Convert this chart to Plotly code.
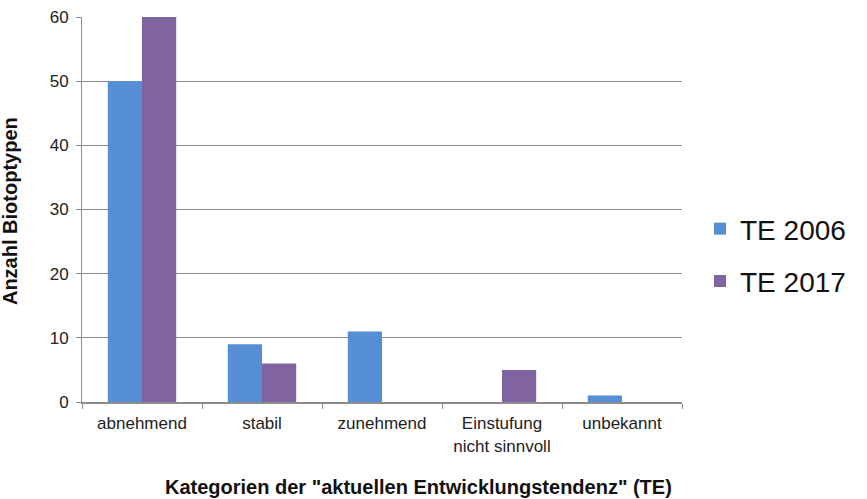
import plotly.graph_objects as go

categories = ["abnehmend", "stabil", "zunehmend", "Einstufung<br>nicht sinnvoll", "unbekannt"]
te_2006 = [50, 9, 11, 0, 1]
te_2017 = [60, 6, 0, 5, 0]
y_ticks = [0, 10, 20, 30, 40, 50, 60]

fig = go.Figure()
fig.add_trace(go.Bar(x=categories, y=te_2006, name="TE 2006", marker_color="#558ED5",
                     marker_line_width=0, legendgroup="a"))
fig.add_trace(go.Bar(x=categories, y=te_2017, name="TE 2017", marker_color="#8064A2",
                     marker_line_width=0, legendgroup="b"))

fig.update_layout(
    width=867, height=499,
    margin=dict(l=82, r=185, t=17, b=97, autoexpand=False),
    paper_bgcolor="white", plot_bgcolor="white",
    barmode="group", bargap=0.43, bargroupgap=0,
    font=dict(family="Liberation Sans, Arial, sans-serif", color="#222222"),
    showlegend=True,
    legend=dict(x=1.03, y=0.382, xanchor="left", yanchor="middle",
                font=dict(size=28, color="#111111"), tracegroupgap=13,
                itemwidth=30, bgcolor="rgba(0,0,0,0)"),
    xaxis=dict(
        showline=True, linecolor="#8c8c8c", linewidth=2,
        ticks="outside", tickson="boundaries", ticklen=5, tickcolor="#8c8c8c",
        tickfont=dict(size=17, color="#222222"), showgrid=False, automargin=False,
        ticklabelstandoff=5,
    ),
    yaxis=dict(
        range=[0, 60], tickvals=y_ticks, showline=True, linecolor="#8c8c8c", linewidth=1,
        ticks="outside", ticklen=5, tickcolor="#8c8c8c",
        showgrid=True, gridcolor="#8c8c8c", gridwidth=1, zeroline=False,
        tickfont=dict(size=17, color="#222222"), automargin=False,
        ticklabelstandoff=4,
    ),
    annotations=[
        dict(text="<b>Kategorien der \"aktuellen Entwicklungstendenz\" (TE)</b>",
             xref="paper", yref="paper", x=0.56, y=-0.221, xanchor="center", yanchor="middle",
             showarrow=False, font=dict(size=20, color="#111111")),
        dict(text="<b>Anzahl Biotoptypen</b>", textangle=-90,
             xref="paper", yref="paper", x=-0.12, y=0.496, xanchor="center", yanchor="middle",
             showarrow=False, font=dict(size=20, color="#111111")),
    ],
)

fig.write_html("out.html", config={"displayModeBar": False},
               post_script="document.body.style.margin='0';")
